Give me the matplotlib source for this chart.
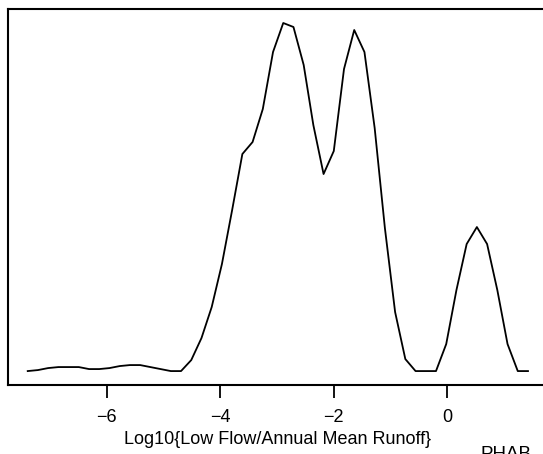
import matplotlib
matplotlib.use('Agg')
import matplotlib.pyplot as plt

plt.rcParams['font.family'] = ['Liberation Sans', 'DejaVu Sans']

# density estimate (x = log10 ratio, y = density)
log_ratio = [-7.39, -7.21, -7.03, -6.85, -6.67, -6.49, -6.31, -6.13, -5.95, -5.77,
             -5.59, -5.41, -5.23, -5.05, -4.87, -4.69, -4.51, -4.33, -4.15, -3.97,
             -3.79, -3.61, -3.43, -3.25, -3.07, -2.89, -2.71, -2.53, -2.36, -2.18,
             -2.00, -1.82, -1.64, -1.46, -1.28, -1.10, -0.92, -0.74, -0.56, -0.38,
             -0.20, -0.02, 0.16, 0.34, 0.52, 0.70, 0.88, 1.06, 1.24, 1.42]
density = [0.000, 0.001, 0.003, 0.004, 0.004, 0.004, 0.002, 0.002, 0.003, 0.005,
           0.006, 0.006, 0.004, 0.002, 0.000, 0.000, 0.011, 0.033, 0.064, 0.107,
           0.161, 0.217, 0.229, 0.262, 0.319, 0.348, 0.344, 0.306, 0.246, 0.197,
           0.220, 0.302, 0.341, 0.319, 0.243, 0.143, 0.059, 0.012, 0.000, 0.000,
           0.000, 0.027, 0.081, 0.127, 0.144, 0.127, 0.081, 0.027, 0.000, 0.000]
xticks = [-6, -4, -2, 0]

fig = plt.figure(figsize=(5.43, 4.54), dpi=100)
# axes runs a little past the right edge of the picture, like the original
ax = fig.add_axes([0.0142, 0.152, 0.995, 0.828])

ax.plot(log_ratio, density, color='black', linewidth=1.3)

# R style 4% padding on both axes
xr = max(log_ratio) - min(log_ratio)
yr = max(density) - min(density)
ax.set_xlim(min(log_ratio) - 0.04 * xr, max(log_ratio) + 0.04 * xr)
ax.set_ylim(min(density) - 0.04 * yr, max(density) + 0.04 * yr)

ax.set_xticks(xticks)
ax.set_yticks([])
ax.tick_params(axis='x', direction='out', length=9, width=1.3, pad=8, labelsize=13)
for s in ax.spines.values():
    s.set_linewidth(1.5)

ax.set_xlabel('Log10{Low Flow/Annual Mean Runoff}', fontsize=13, labelpad=4)

fig.text(481 / 543, 1 - 446 / 454, 'PHAB', fontsize=13.5, ha='left', va='top')

fig.savefig('out.png', dpi=100)
